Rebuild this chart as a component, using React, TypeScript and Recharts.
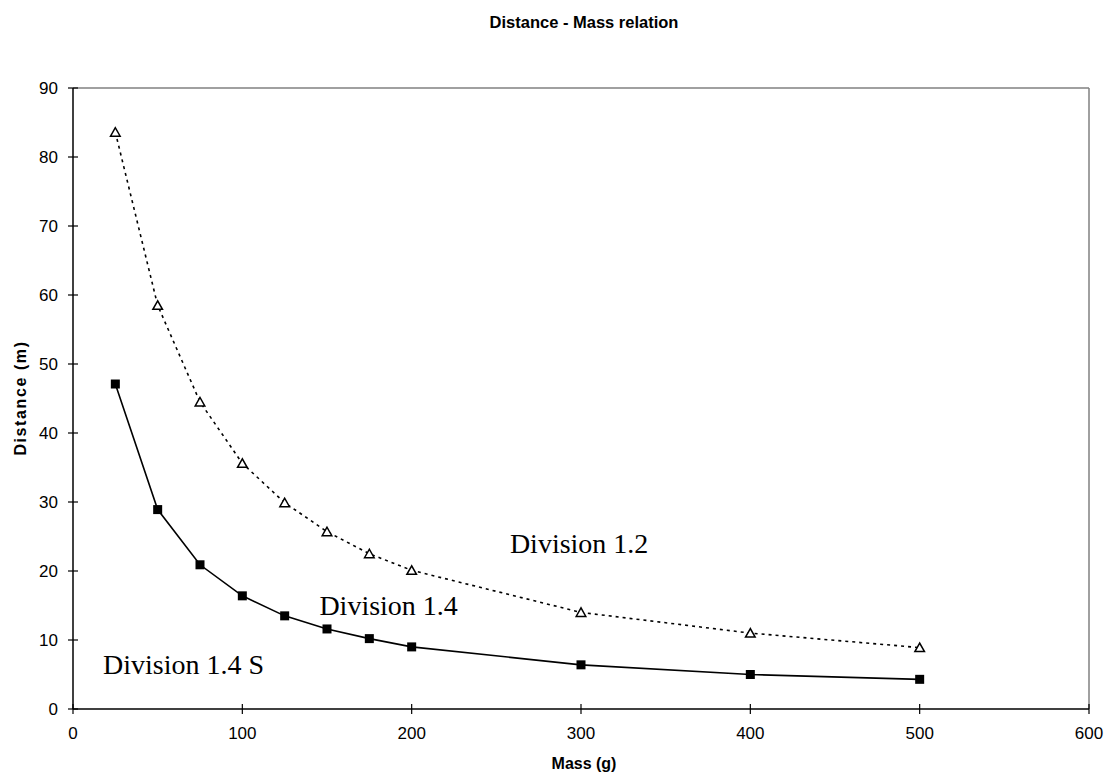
import React from "react"
import {
  LineChart,
  Line,
  XAxis,
  YAxis,
  ReferenceLine,
  ReferenceDot,
  Label,
} from "recharts"

const masses = [25, 50, 75, 100, 125, 150, 175, 200, 300, 400, 500]
const division12 = [83.6, 58.5, 44.5, 35.6, 29.9, 25.7, 22.5, 20.1, 14.0, 11.0, 8.9]
const division14S = [47.1, 28.9, 20.9, 16.4, 13.5, 11.6, 10.2, 9.0, 6.4, 5.0, 4.3]

const xTicks = [0, 100, 200, 300, 400, 500, 600]
const yTicks = [0, 10, 20, 30, 40, 50, 60, 70, 80, 90]

const annotations = [
  { text: "Division 1.2", x: 258, y: 24.1 },
  { text: "Division 1.4", x: 145.5, y: 15.1 },
  { text: "Division 1.4 S", x: 17.7, y: 6.5 },
]

const chartData = masses.map((m, i) => ({
  mass: m,
  d12: division12[i],
  d14s: division14S[i],
}))

const sans = "'Liberation Sans', Arial, sans-serif"
const serif = "'Liberation Serif', 'Times New Roman', serif"

function XTick(props: any) {
  const { x, y, payload } = props
  const ay = y - 18
  return (
    <g>
      <line x1={x} x2={x} y1={ay - 5} y2={ay + 5} stroke="#000" strokeWidth={1.2} />
      <text x={x} y={y} dy="0.71em" textAnchor="middle" fontSize={17} fontFamily={sans} fill="#000">
        {payload.value}
      </text>
    </g>
  )
}

function YTick(props: any) {
  const { x, y, payload } = props
  const ax = x + 15
  return (
    <g>
      <line x1={ax - 5} x2={ax + 5} y1={y} y2={y} stroke="#000" strokeWidth={1.2} />
      <text x={x} y={y} dy="0.355em" textAnchor="end" fontSize={17} fontFamily={sans} fill="#000">
        {payload.value}
      </text>
    </g>
  )
}

function TriangleDot(props: any) {
  const { cx, cy } = props
  if (cx == null || cy == null) return null
  return (
    <polygon
      points={`${cx},${cy - 4.5} ${cx - 4.8},${cy + 4} ${cx + 4.8},${cy + 4}`}
      fill="#fff"
      stroke="#000"
      strokeWidth={1.5}
    />
  )
}

function SquareDot(props: any) {
  const { cx, cy } = props
  if (cx == null || cy == null) return null
  return <rect x={cx - 4.5} y={cy - 4.5} width={9} height={9} fill="#000" />
}

export default function App() {
  return (
    <div style={{ position: "absolute", left: 0, top: 0, width: 1105, height: 774, background: "#fff" }}>
      <div
        style={{
          position: "absolute",
          left: 73,
          width: 1022,
          top: 14,
          textAlign: "center",
          fontFamily: sans,
          fontWeight: "bold",
          fontSize: 16.5,
          lineHeight: 1,
        }}
      >
        Distance - Mass relation
      </div>
      <LineChart
        width={1105}
        height={774}
        data={chartData}
        margin={{ top: 88, right: 16, bottom: 5, left: 13 }}
      >
        <XAxis
          dataKey="mass"
          type="number"
          domain={[0, 600]}
          ticks={xTicks}
          tickSize={5}
          tickMargin={13}
          tickLine={false}
          tick={<XTick />}
          height={60}
          axisLine={{ stroke: "#000", strokeWidth: 1.5 }}
        >
          <Label
            content={() => (
              <text x={584} y={769} textAnchor="middle" fontSize={16} fontWeight="bold" fontFamily={sans} fill="#000">
                Mass (g)
              </text>
            )}
          />
        </XAxis>
        <YAxis
          type="number"
          domain={[0, 90]}
          ticks={yTicks}
          tickSize={5}
          tickMargin={10}
          tickLine={false}
          tick={<YTick />}
          width={60}
          axisLine={{ stroke: "#000", strokeWidth: 1.5 }}
        >
          <Label
            content={() => (
              <text
                x={20}
                y={398}
                transform="rotate(-90 20 398)"
                textAnchor="middle"
                dominantBaseline="central"
                fontSize={16}
                letterSpacing={1.6}
                fontWeight="bold"
                fontFamily={sans}
                fill="#000"
              >
                Distance (m)
              </text>
            )}
          />
        </YAxis>
        <ReferenceLine y={90} stroke="#808080" strokeWidth={1.5} />
        <ReferenceLine x={600} stroke="#808080" strokeWidth={1.5} />
        <Line
          type="linear"
          dataKey="d12"
          stroke="#000"
          strokeWidth={1.6}
          strokeDasharray="3 4"
          dot={<TriangleDot />}
          activeDot={false}
          isAnimationActive={false}
        />
        <Line
          type="linear"
          dataKey="d14s"
          stroke="#000"
          strokeWidth={1.6}
          dot={<SquareDot />}
          activeDot={false}
          isAnimationActive={false}
        />
        {annotations.map((a) => (
          <ReferenceDot
            key={a.text}
            x={a.x}
            y={a.y}
            r={0}
            stroke="none"
            fill="none"
            label={{
              value: a.text,
              position: "right",
              offset: 0,
              fontSize: 28,
              fontFamily: serif,
              fill: "#000",
            }}
          />
        ))}
      </LineChart>
    </div>
  )
}
